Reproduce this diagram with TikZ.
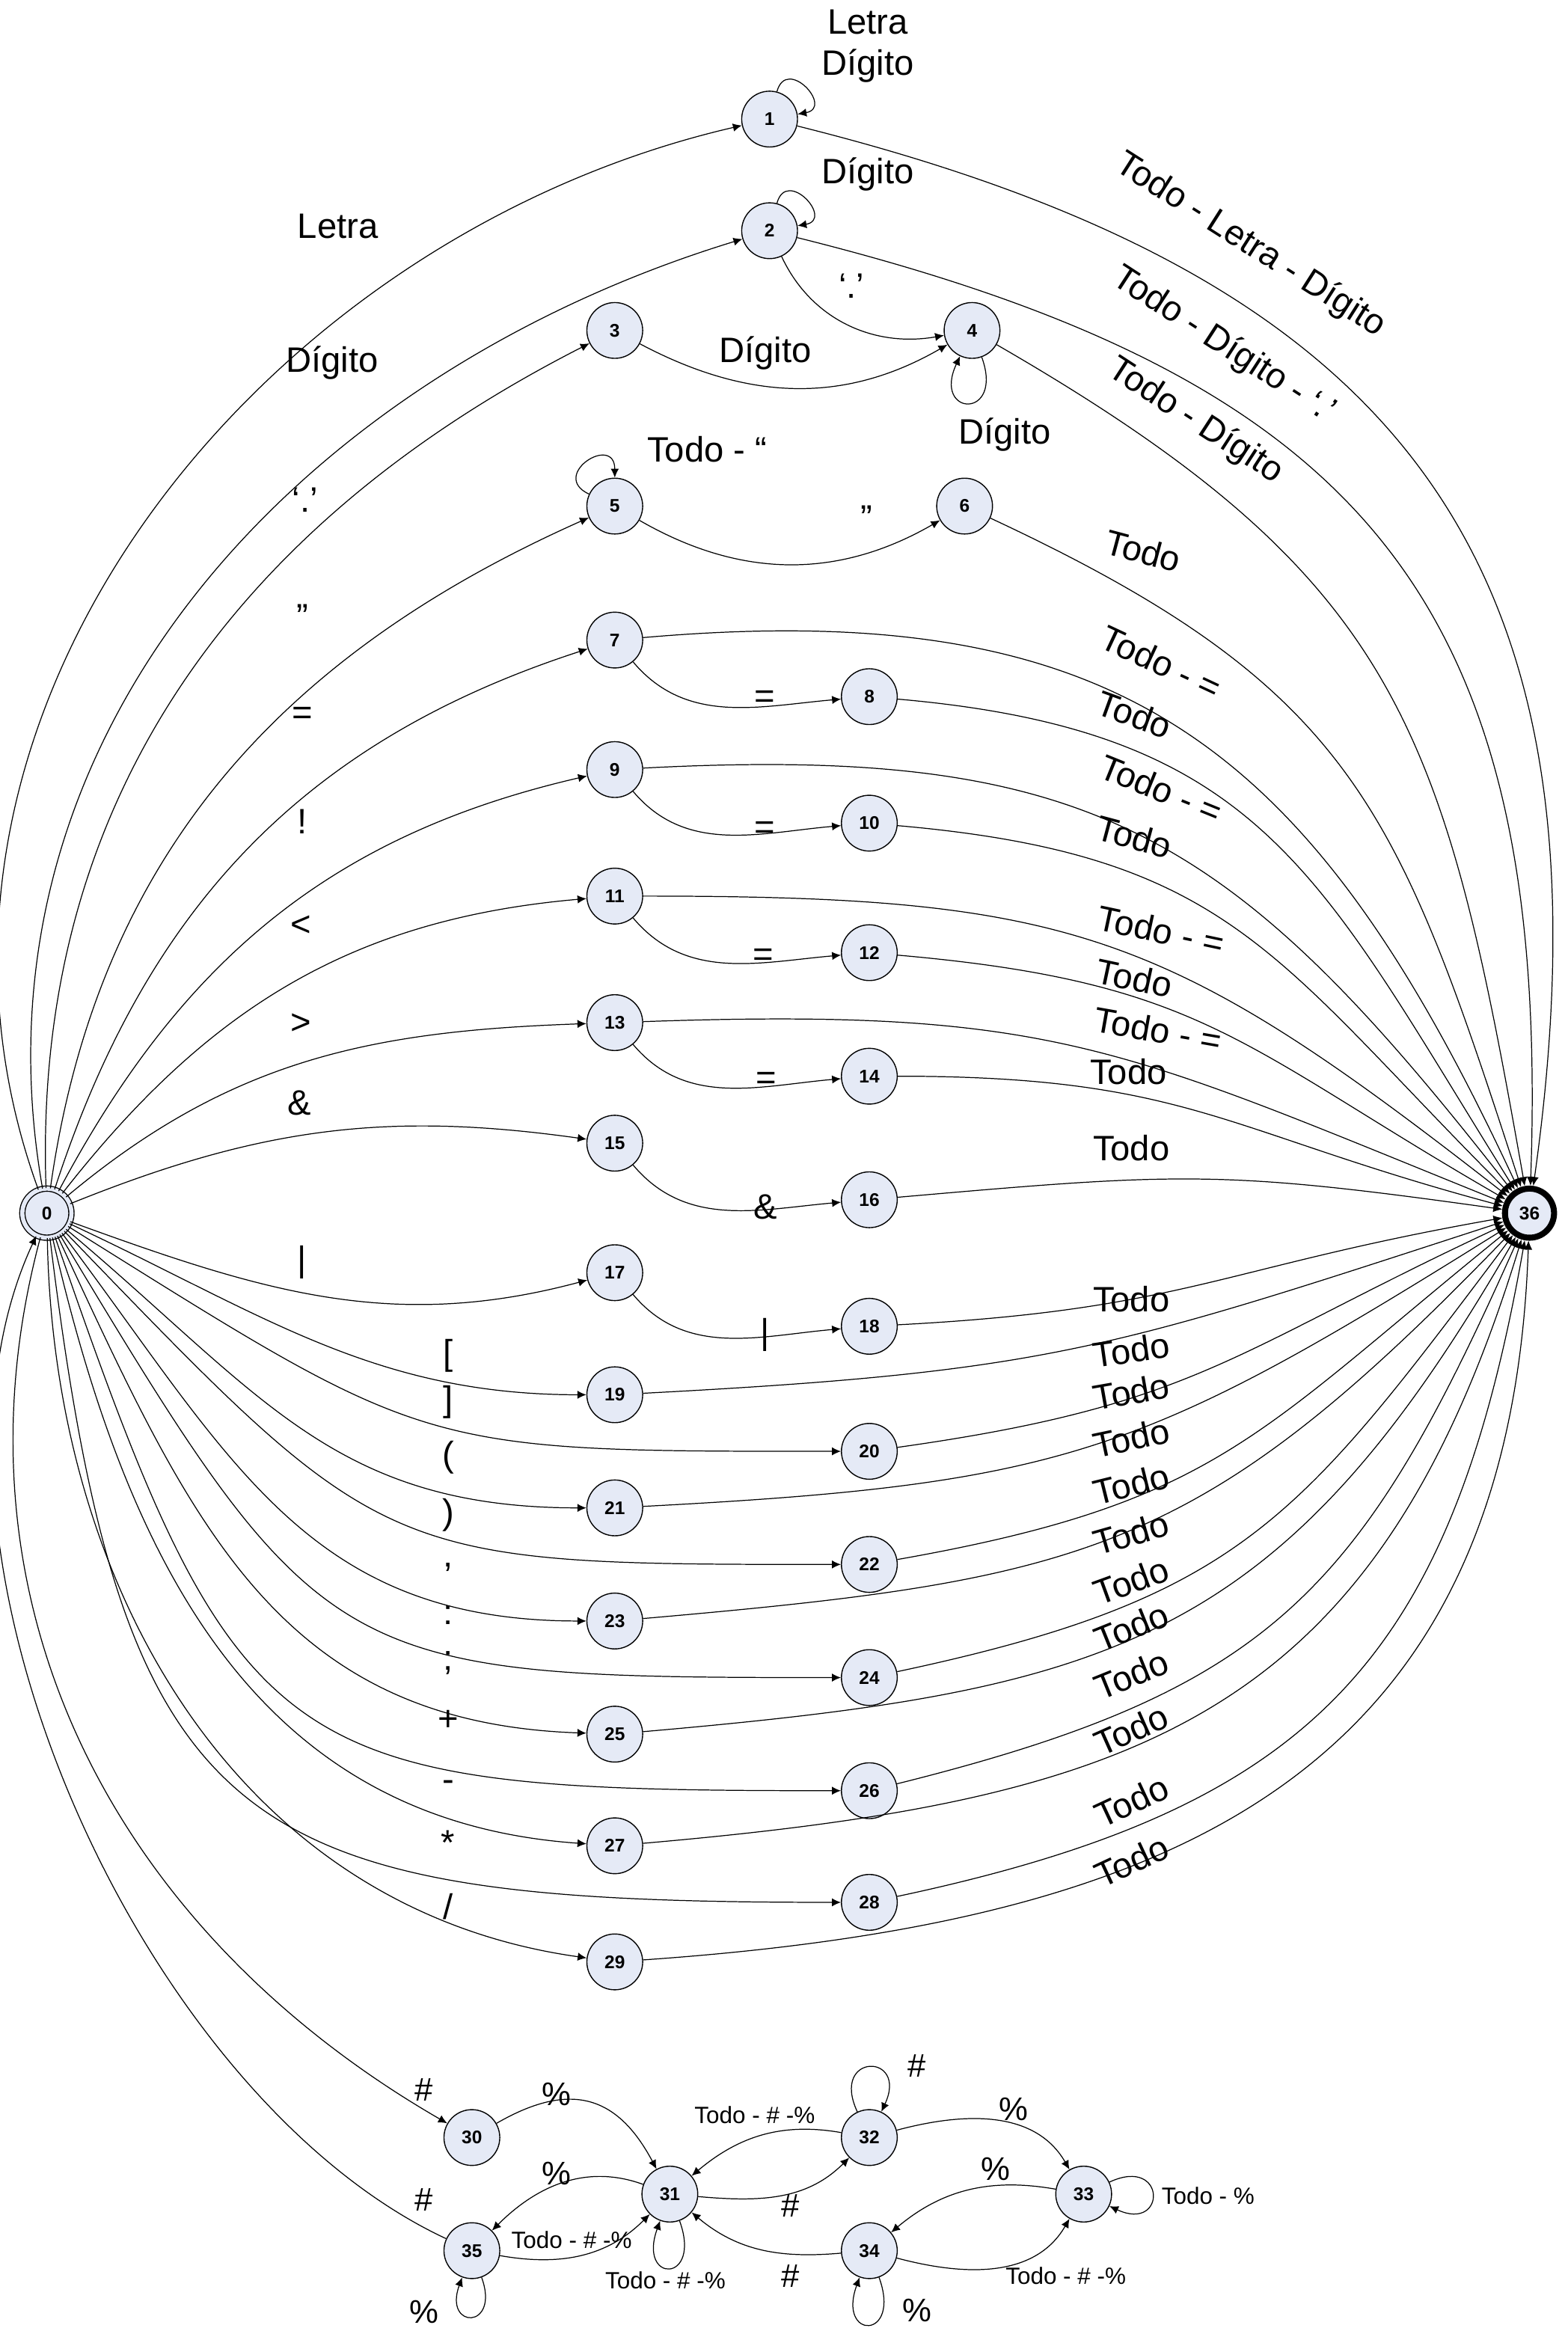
\documentclass[tikz,border=0pt]{standalone}
\usepackage{fontspec}
\setmainfont{Liberation Sans}
\usetikzlibrary{arrows.meta}
\definecolor{stfill}{RGB}{229,234,246}

\tikzset{
  estado/.style={circle, draw, fill=stfill, minimum size=0.75cm, inner sep=0pt, line width=0.4pt, font=\fontsize{7}{8}\selectfont\bfseries},
  estinicial/.style={estado, minimum size=0.66cm, double=stfill, double distance=1.6pt},
  estfinal/.style={estado, minimum size=0.66cm, line width=2.3pt},
  trans/.style={line width=0.35pt, -{Latex[length=1.2mm,width=1.1mm]}},
  lbl/.style={font=\fontsize{13.5}{16}\selectfont, inner sep=0pt},
  lblm/.style={font=\fontsize{12.5}{15}\selectfont, inner sep=0pt},
  lbls/.style={font=\fontsize{9}{11}\selectfont, inner sep=0pt},
}

\begin{document}
\begin{tikzpicture}[x=0.02cm, y=0.02cm]
\useasboundingbox (0,0) rectangle (1053,-1568);

% estados
\node[estinicial] (q0) at (31.5,-815) {0};
\node[estado] (q1) at (517,-80) {1};
\node[estado] (q2) at (517,-155) {2};
\node[estado] (q3) at (413,-222) {3};
\node[estado] (q4) at (653,-222) {4};
\node[estado] (q5) at (413,-340) {5};
\node[estado] (q6) at (648,-340) {6};
\node[estado] (q7) at (413,-430) {7};
\node[estado] (q8) at (584,-468) {8};
\node[estado] (q9) at (413,-517) {9};
\node[estado] (q10) at (584,-553) {10};
\node[estado] (q11) at (413,-602) {11};
\node[estado] (q12) at (584,-640) {12};
\node[estado] (q13) at (413,-687) {13};
\node[estado] (q14) at (584,-723) {14};
\node[estado] (q15) at (413,-768) {15};
\node[estado] (q16) at (584,-806) {16};
\node[estado] (q17) at (413,-855) {17};
\node[estado] (q18) at (584,-891) {18};
\node[estado] (q19) at (413,-937) {19};
\node[estado] (q20) at (584,-975) {20};
\node[estado] (q21) at (413,-1013) {21};
\node[estado] (q22) at (584,-1051) {22};
\node[estado] (q23) at (413,-1089) {23};
\node[estado] (q24) at (584,-1127) {24};
\node[estado] (q25) at (413,-1165) {25};
\node[estado] (q26) at (584,-1203) {26};
\node[estado] (q27) at (413,-1240) {27};
\node[estado] (q28) at (584,-1278) {28};
\node[estado] (q29) at (413,-1318) {29};
\node[estado] (q30) at (317,-1436) {30};
\node[estado] (q31) at (450,-1474) {31};
\node[estado] (q32) at (584,-1436) {32};
\node[estado] (q33) at (728,-1474) {33};
\node[estado] (q34) at (584,-1512) {34};
\node[estado] (q35) at (317,-1512) {35};
\node[estfinal] (q36) at (1027.5,-815) {36};

% transiciones desde 0
\draw[trans] (q0) to[out=110,in=193] (q1);
\draw[trans] (q0) to[out=100,in=197] (q2);
\draw[trans] (q0) to[out=92,in=207] (q3);
\draw[trans] (q0) to[out=82,in=204] (q5);
\draw[trans] (q0) to[out=72,in=198] (q7);
\draw[trans] (q0) to[out=62,in=193] (q9);
\draw[trans] (q0) to[out=52,in=185] (q11);
\draw[trans] (q0) to[out=40,in=182] (q13);
\draw[trans] (q0) to[out=22,in=172] (q15);
\draw[trans] (q0) to[out=-20,in=195] (q17);
\draw[trans] (q0) to[out=-25,in=180] (q19);
\draw[trans] (q0) to[out=-32,in=180,looseness=1.35] (q20);
\draw[trans] (q0) to[out=-40,in=180,looseness=1.1] (q21);
\draw[trans] (q0) to[out=-46,in=180,looseness=1.4] (q22);
\draw[trans] (q0) to[out=-53,in=180,looseness=1.1] (q23);
\draw[trans] (q0) to[out=-59,in=180,looseness=1.45] (q24);
\draw[trans] (q0) to[out=-65,in=178,looseness=1.1] (q25);
\draw[trans] (q0) to[out=-71,in=180,looseness=1.5] (q26);
\draw[trans] (q0) to[out=-77,in=176,looseness=1.05] (q27);
\draw[trans] (q0) to[out=-83,in=180,looseness=1.5] (q28);
\draw[trans] (q0) to[out=-89,in=172] (q29);
\draw[trans] (q0) to[out=255,in=150] (q30);
\draw[trans] (q35) to[out=155,in=245,looseness=0.8] (q0);

% transiciones internas
\draw[trans] (q1) to[out=75,in=10,min distance=0.5cm] (q1);
\draw[trans] (q2) to[out=75,in=10,min distance=0.5cm] (q2);
\draw[trans] (q2) to[out=-65,in=190] (q4);
\draw[trans] (q3) to[out=-28,in=210] (q4);
\draw[trans] (q4) to[out=290,in=245,min distance=0.9cm] (q4);
\draw[trans] (q5) to[out=155,in=90,min distance=0.6cm] (q5);
\draw[trans] (q5) to[out=-30,in=210] (q6);
\draw[trans] (q7) to[out=-50,in=185] (q8);
\draw[trans] (q9) to[out=-50,in=185] (q10);
\draw[trans] (q11) to[out=-50,in=185] (q12);
\draw[trans] (q13) to[out=-50,in=185] (q14);
\draw[trans] (q15) to[out=-50,in=185] (q16);
\draw[trans] (q17) to[out=-50,in=185] (q18);

% transiciones hacia 36
\draw[trans] (q1) to[out=-14,in=82,looseness=1.25] (q36);
\draw[trans] (q2) to[out=-14,in=88,looseness=1.25] (q36);
\draw[trans] (q4) to[out=-30,in=100,looseness=1.2] (q36);
\draw[trans] (q6) to[out=-25,in=108,looseness=1.2] (q36);
\draw[trans] (q7) to[out=5,in=115,looseness=1.2] (q36);
\draw[trans] (q8) to[out=-5,in=122,looseness=1.2] (q36);
\draw[trans] (q9) to[out=3,in=128,looseness=1.2] (q36);
\draw[trans] (q10) to[out=-5,in=135,looseness=1.2] (q36);
\draw[trans] (q11) to[out=0,in=142,looseness=1.2] (q36);
\draw[trans] (q12) to[out=-5,in=150,looseness=1.2] (q36);
\draw[trans] (q13) to[out=2,in=158,looseness=1.2] (q36);
\draw[trans] (q14) to[out=0,in=165,looseness=1.2] (q36);
\draw[trans] (q16) to[out=5,in=172,looseness=1.2] (q36);
\draw[trans] (q18) to[out=3,in=190,looseness=1.2] (q36);
\draw[trans] (q19) to[out=3,in=198,looseness=1.2] (q36);
\draw[trans] (q20) to[out=8,in=205,looseness=1.2] (q36);
\draw[trans] (q21) to[out=3,in=212,looseness=1.2] (q36);
\draw[trans] (q22) to[out=10,in=219,looseness=1.2] (q36);
\draw[trans] (q23) to[out=5,in=226,looseness=1.2] (q36);
\draw[trans] (q24) to[out=12,in=233,looseness=1.2] (q36);
\draw[trans] (q25) to[out=5,in=240,looseness=1.2] (q36);
\draw[trans] (q26) to[out=14,in=246,looseness=1.2] (q36);
\draw[trans] (q27) to[out=5,in=253,looseness=1.2] (q36);
\draw[trans] (q28) to[out=12,in=260,looseness=1.2] (q36);
\draw[trans] (q29) to[out=4,in=268,looseness=1.2] (q36);

% comentarios
\draw[trans] (q30) to[out=30,in=118,looseness=1.3] (q31);
\draw[trans] (q31) to[out=160,in=45] (q35);
\draw[trans] (q35) to[out=-10,in=225] (q31);
\draw[trans] (q31) to[out=-70,in=-110,min distance=0.9cm] (q31);
\draw[trans] (q35) to[out=-70,in=-110,min distance=0.75cm] (q35);
\draw[trans] (q31) to[out=-5,in=225] (q32);
\draw[trans] (q32) to[out=170,in=40] (q31);
\draw[trans] (q32) to[out=115,in=65,min distance=0.88cm] (q32);
\draw[trans] (q32) to[out=15,in=120] (q33);
\draw[trans] (q33) to[out=25,in=-25,min distance=0.85cm] (q33);
\draw[trans] (q33) to[out=170,in=40] (q34);
\draw[trans] (q34) to[out=185,in=-40] (q31);
\draw[trans] (q34) to[out=-15,in=240] (q33);
\draw[trans] (q34) to[out=-70,in=-110,min distance=0.9cm] (q34);

% etiquetas desde 0
\node[lbl] (e1) at (227,-152) {Letra};
\node[lbl] (e2) at (223,-244) {Dígito};
\node[lbl] (e3) at (205,-336) {‘.’};
\node[lbl] (e5) at (203,-414) {”};
\node[lbl] (e7) at (203,-481) {=};
\node[lbl] (e9) at (203,-552) {!};
\node[lbl] (e11) at (202,-622) {<};
\node[lbl] (e13) at (202,-688) {>};
\node[lbl] (e15) at (201,-741) {\&};
\node[lbl] (e17) at (203,-848) {|};
\node[lbl] (e19) at (301,-911) {[};
\node[lbl] (e20) at (301,-942) {]};
\node[lbl] (e21) at (301,-979) {(};
\node[lbl] (e22) at (301,-1018) {)};
\node[lbl] (e23) at (301,-1053) {,};
\node[lbl] (e24) at (301,-1085) {:};
\node[lbl] (e25) at (301,-1117) {;};
\node[lbl] (e26) at (301,-1156) {+};
\node[lbl] (e27) at (301,-1200) {-};
\node[lbl] (e28) at (301,-1238) {*};
\node[lbl] (e29) at (301,-1281) {/};

% etiquetas internas
\node[lbl, align=center] (i1) at (583,-31) {Letra\\Dígito};
\node[lbl] (i2) at (583,-117) {Dígito};
\node[lbl] (i24) at (572,-192) {‘.’};
\node[lbl] (i34) at (514,-237) {Dígito};
\node[lbl] (i4) at (675,-292) {Dígito};
\node[lbl] (i5) at (475,-302) {Todo - “};
\node[lbl] (i56) at (582,-348) {”};
\node[lbl] (i78) at (514,-470) {=};
\node[lbl] (i910) at (514,-558) {=};
\node[lbl] (i1112) at (513,-643) {=};
\node[lbl] (i1314) at (515,-726) {=};
\node[lbl] (i1516) at (514,-811) {\&};
\node[lbl] (i1718) at (514,-897) {|};

% etiquetas hacia 36
\node[lbl, rotate=-32.5] (f1) at (840,-165) {Todo - Letra - Dígito};
\node[lbl, rotate=-33] (f2) at (822,-232) {Todo - Dígito - ‘.’};
\node[lbl, rotate=-33] (f4) at (803,-283) {Todo - Dígito};
\node[lbl, rotate=-15] (f6) at (768,-370) {Todo};
\node[lbl, rotate=-25] (f7) at (780,-445) {Todo - =};
\node[lbl, rotate=-20] (f8) at (762,-480) {Todo};
\node[lbl, rotate=-22] (f9) at (780,-530) {Todo - =};
\node[lbl, rotate=-15] (f10) at (762,-562) {Todo};
\node[lbl, rotate=-12] (f11) at (780,-625) {Todo - =};
\node[lbl, rotate=-12] (f12) at (762,-657) {Todo};
\node[lbl, rotate=-10] (f13) at (778,-692) {Todo - =};
\node[lbl] (f14) at (758,-720) {Todo};
\node[lbl] (f16) at (760,-771) {Todo};
\node[lbl] (f18) at (760,-873) {Todo};
\node[lbl, rotate=8] (f19) at (760,-907) {Todo};
\node[lbl, rotate=10] (f20) at (760,-935) {Todo};
\node[lbl, rotate=12] (f21) at (760,-966) {Todo};
\node[lbl, rotate=14] (f22) at (760,-997) {Todo};
\node[lbl, rotate=16] (f23) at (760,-1030) {Todo};
\node[lbl, rotate=20] (f24) at (760,-1062) {Todo};
\node[lbl, rotate=22] (f25) at (760,-1093) {Todo};
\node[lbl, rotate=22] (f26) at (760,-1125) {Todo};
\node[lbl, rotate=24] (f27) at (760,-1162) {Todo};
\node[lbl, rotate=25] (f28) at (760,-1210) {Todo};
\node[lbl, rotate=25] (f29) at (760,-1250) {Todo};

% etiquetas de comentarios
\node[lblm] (c030) at (285,-1404) {\#};
\node[lblm] (c3031) at (374,-1407) {\%};
\node[lbls] (c3231) at (507,-1421) {Todo - \# -\%};
\node[lblm] (c32) at (616,-1388) {\#};
\node[lblm] (c3233) at (681,-1417) {\%};
\node[lblm] (c3334) at (669,-1457) {\%};
\node[lbls, anchor=west] (c33) at (780,-1475) {Todo - \%};
\node[lblm] (c3132) at (531,-1482) {\#};
\node[lblm] (c3135) at (374,-1460) {\%};
\node[lblm] (c350) at (285,-1478) {\#};
\node[lbls] (c3531) at (384,-1505) {Todo - \# -\%};
\node[lbls] (c31) at (447,-1532) {Todo - \# -\%};
\node[lblm] (c3431) at (531,-1529) {\#};
\node[lblm] (c34) at (616,-1552) {\%};
\node[lbls] (c3433) at (716,-1529) {Todo - \# -\%};
\node[lblm] (c35) at (285,-1553) {\%};
\end{tikzpicture}
\end{document}
